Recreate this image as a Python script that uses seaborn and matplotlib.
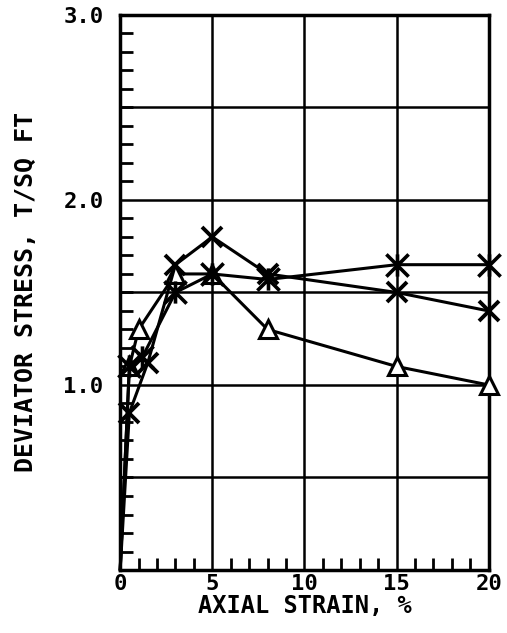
import matplotlib
matplotlib.use("Agg")
import matplotlib.pyplot as plt
import seaborn as sns
import pandas as pd
from matplotlib.path import Path
from matplotlib.ticker import MultipleLocator, FixedLocator

# values
strain_tri = [0, 0.5, 1.0, 3.0, 5.0, 8.0, 15.0, 20.0]
stress_tri = [0.0, 1.1, 1.3, 1.6, 1.6, 1.3, 1.1, 1.0]

strain_x = [0, 0.5, 1.5, 3.0, 5.0, 8.0, 15.0, 20.0]
stress_x = [0.0, 0.85, 1.12, 1.65, 1.8, 1.6, 1.5, 1.4]

strain_star = [0, 0.5, 1.2, 3.0, 5.0, 8.0, 15.0, 20.0]
stress_star = [0.0, 1.1, 1.15, 1.5, 1.6, 1.57, 1.65, 1.65]

x_ticks = [0, 5, 10, 15, 20]
y_ticks = [1.0, 2.0, 3.0]

sns.set_style("white")
plt.rcParams["font.family"] = ["DejaVu Sans Mono", "DejaVu Sans"]
plt.rcParams["font.weight"] = "bold"
plt.rcParams["text.color"] = "black"
plt.rcParams["axes.labelcolor"] = "black"
plt.rcParams["xtick.color"] = "black"
plt.rcParams["ytick.color"] = "black"

# X with a vertical bar through it
star_marker = Path(
    [(-1, -1), (1, 1), (-1, 1), (1, -1), (0, -1), (0, 1)],
    [Path.MOVETO, Path.LINETO, Path.MOVETO, Path.LINETO, Path.MOVETO, Path.LINETO],
)

fig = plt.figure(figsize=(5.07, 6.33), dpi=100)
ax = fig.add_axes([0.237, 0.0995, 0.727, 0.877])

df_tri = pd.DataFrame({"strain": strain_tri, "stress": stress_tri})
df_x = pd.DataFrame({"strain": strain_x, "stress": stress_x})
df_star = pd.DataFrame({"strain": strain_star, "stress": stress_star})

# no marker at the origin
skip0 = list(range(1, len(strain_tri)))

sns.lineplot(data=df_tri, x="strain", y="stress", ax=ax, color="black", lw=2.2,
             marker="^", markersize=13, markerfacecolor="white",
             markeredgecolor="black", markeredgewidth=2.2, markevery=skip0,
             zorder=3, clip_on=False)
sns.lineplot(data=df_x, x="strain", y="stress", ax=ax, color="black", lw=2.2,
             marker="x", markersize=15, markeredgecolor="black",
             markeredgewidth=2.8, markevery=skip0, zorder=3, clip_on=False)
sns.lineplot(data=df_star, x="strain", y="stress", ax=ax, color="black", lw=2.2,
             marker=star_marker, markersize=16, markeredgecolor="black",
             markeredgewidth=2.6, markevery=skip0, zorder=3, clip_on=False)

ax.set_xlim(0, 20)
ax.set_ylim(0, 3.0)
ax.xaxis.set_major_locator(FixedLocator(x_ticks))
ax.yaxis.set_major_locator(FixedLocator(y_ticks))
ax.set_xticklabels([str(t) for t in x_ticks])
ax.set_yticklabels([f"{t:.1f}" for t in y_ticks])
ax.xaxis.set_minor_locator(MultipleLocator(1))
ax.yaxis.set_minor_locator(MultipleLocator(0.1))

# grid: vertical every 5 %, horizontal every 0.5
for xv in [5, 10, 15]:
    ax.axvline(xv, color="black", lw=1.8, zorder=1)
for yv in [0.5, 1.0, 1.5, 2.0, 2.5]:
    ax.axhline(yv, color="black", lw=1.8, zorder=1)

ax.tick_params(axis="both", which="major", length=0, labelsize=16)
ax.tick_params(axis="x", which="major", pad=3)
ax.tick_params(axis="y", which="major", pad=12)
ax.tick_params(axis="x", which="minor", direction="in", length=9, width=2,
               bottom=True)
ax.tick_params(axis="y", which="minor", direction="in", length=9, width=2,
               left=True)
for s in ax.spines.values():
    s.set_linewidth(2.5)
    s.set_color("black")

ax.set_xlabel("AXIAL STRAIN, %", fontsize=17, fontweight="bold", labelpad=0)
ax.set_ylabel("DEVIATOR STRESS, T/SQ FT", fontsize=18, fontweight="bold",
              labelpad=18)

fig.savefig("out.png", dpi=100)
